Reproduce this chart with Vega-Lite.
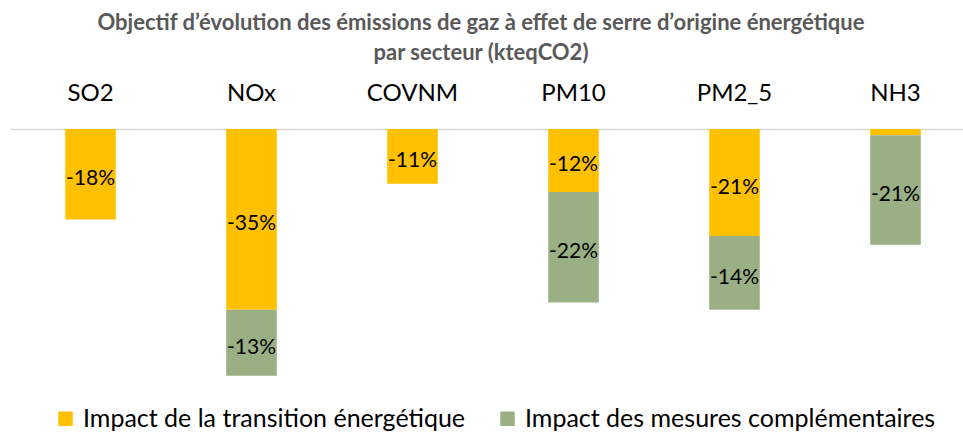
{
  "$schema": "https://vega.github.io/schema/vega-lite/v6.json",
  "width": 966,
  "height": 256,
  "autosize": {"type": "none"},
  "padding": {"left": 10, "top": 129, "right": 0, "bottom": 47},
  "background": "white",
  "config": {
    "view": {"stroke": null},
    "locale": {"number": {"decimal": ",", "thousands": " ", "grouping": [3], "currency": ["", " €"], "minus": "-", "percent": "%"}}
  },
  "title": {
    "text": ["Objectif d’évolution des émissions de gaz à effet de serre d’origine énergétique", "par secteur (kteqCO2)"],
    "font": "Lato",
    "fontSize": 22,
    "fontWeight": "bold",
    "color": "#595959",
    "lineHeight": 30,
    "anchor": "middle",
    "dx": -12,
    "offset": 16
  },
  "data": {
    "values": [
      {"polluant": "SO2", "serie": "Impact de la transition énergétique", "valeur": -0.177},
      {"polluant": "NOx", "serie": "Impact de la transition énergétique", "valeur": -0.353},
      {"polluant": "NOx", "serie": "Impact des mesures complémentaires", "valeur": -0.129},
      {"polluant": "COVNM", "serie": "Impact de la transition énergétique", "valeur": -0.107},
      {"polluant": "PM10", "serie": "Impact de la transition énergétique", "valeur": -0.123},
      {"polluant": "PM10", "serie": "Impact des mesures complémentaires", "valeur": -0.216},
      {"polluant": "PM2_5", "serie": "Impact de la transition énergétique", "valeur": -0.209},
      {"polluant": "PM2_5", "serie": "Impact des mesures complémentaires", "valeur": -0.144},
      {"polluant": "NH3", "serie": "Impact de la transition énergétique", "valeur": -0.012},
      {"polluant": "NH3", "serie": "Impact des mesures complémentaires", "valeur": -0.214}
    ]
  },
  "transform": [
    {"stack": "valeur", "groupby": ["polluant"], "sort": [{"field": "serie", "order": "ascending"}], "as": ["v0", "v1"], "offset": "zero"},
    {"calculate": "(datum.v0 + datum.v1) / 2", "as": "vmid"}
  ],
  "encoding": {
    "x": {
      "field": "polluant",
      "type": "nominal",
      "sort": ["SO2", "NOx", "COVNM", "PM10", "PM2_5", "NH3"],
      "scale": {"paddingInner": 0.686, "paddingOuter": 0.343},
      "axis": {
        "orient": "top",
        "title": null,
        "labelAngle": 0,
        "labelFont": "Lato",
        "labelFontSize": 24,
        "labelColor": "#000000",
        "labelPadding": 24,
        "ticks": false,
        "domain": true,
        "domainColor": "#d9d9d9",
        "domainWidth": 1.5,
        "grid": false
      }
    }
  },
  "layer": [
    {
      "mark": {"type": "bar"},
      "encoding": {
        "y": {
          "field": "v0",
          "type": "quantitative",
          "scale": {"domain": [-0.5, 0], "nice": false},
          "axis": null
        },
        "y2": {"field": "v1"},
        "color": {
          "field": "serie",
          "type": "nominal",
          "scale": {
            "domain": ["Impact de la transition énergétique", "Impact des mesures complémentaires"],
            "range": ["#FFC000", "#9BAF84"]
          },
          "legend": {
            "title": null,
            "orient": "none",
            "legendX": 43,
            "legendY": 277,
            "direction": "horizontal",
            "symbolType": "square",
            "symbolSize": 210,
            "symbolStrokeWidth": 0,
            "labelFont": "Lato",
            "labelFontSize": 25,
            "labelColor": "#000000",
            "labelOffset": 5,
            "columnPadding": 29,
            "labelLimit": 600
          }
        }
      }
    },
    {
      "transform": [{"filter": "datum.valeur < -0.03"}],
      "mark": {"type": "text", "font": "Lato", "fontSize": 21, "color": "#000000", "baseline": "middle", "align": "center", "dy": 5},
      "encoding": {
        "y": {"field": "vmid", "type": "quantitative"},
        "text": {"field": "valeur", "type": "quantitative", "format": ".0%"}
      }
    }
  ]
}
